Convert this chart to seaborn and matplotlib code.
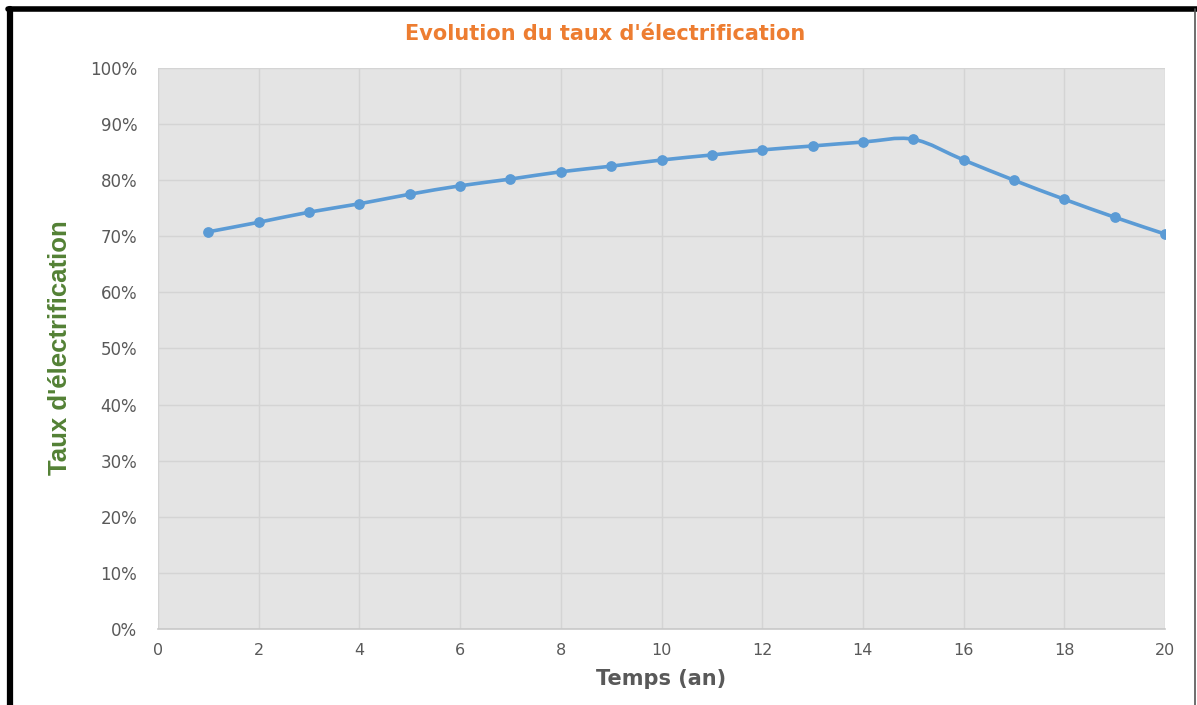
import numpy as np
import pandas as pd
import matplotlib
matplotlib.use("Agg")
import matplotlib.pyplot as plt
import seaborn as sns
from matplotlib.path import Path
from matplotlib.patches import PathPatch
from matplotlib.lines import Line2D
from matplotlib.ticker import FuncFormatter, MultipleLocator

# ---- data ----
years = [1, 2, 3, 4, 5, 6, 7, 8, 9, 10, 11, 12, 13, 14, 15, 16, 17, 18, 19, 20]
taux = [0.708, 0.725, 0.743, 0.758, 0.775, 0.790, 0.802, 0.815, 0.825, 0.836,
        0.845, 0.854, 0.861, 0.868, 0.873, 0.836, 0.800, 0.766, 0.734, 0.704]
title = "Evolution du taux d'électrification"
xlabel = "Temps (an)"
ylabel = "Taux d'électrification"

df = pd.DataFrame({"Temps": years, "Taux": taux})

sns.set_theme(style="white")
fig = plt.figure(figsize=(11.97, 7.05), dpi=100)
ax = fig.add_axes([158 / 1197, 1 - 629 / 705, (1165 - 158) / 1197, (629 - 68) / 705])
ax.set_facecolor("#E4E4E4")

line_color = "#5B9BD5"

# smoothed line (Excel-like Bezier smoothing through the data points)
x = np.asarray(df["Temps"], float)
y = np.asarray(df["Taux"], float)
n = len(x)
verts = [(x[0], y[0])]
codes = [Path.MOVETO]
for i in range(n - 1):
    p0 = np.array([x[max(i - 1, 0)], y[max(i - 1, 0)]])
    p1 = np.array([x[i], y[i]])
    p2 = np.array([x[i + 1], y[i + 1]])
    p3 = np.array([x[min(i + 2, n - 1)], y[min(i + 2, n - 1)]])
    c1 = p1 + (p2 - p0) / 6
    c2 = p2 - (p3 - p1) / 6
    verts += [tuple(c1), tuple(c2), tuple(p2)]
    codes += [Path.CURVE4] * 3
ax.add_patch(PathPatch(Path(verts, codes), fill=False, edgecolor=line_color,
                       lw=2.6, capstyle="round", joinstyle="round", zorder=3))

sns.scatterplot(data=df, x="Temps", y="Taux", ax=ax, color=line_color, s=60,
                edgecolor=line_color, linewidth=0, zorder=4, legend=False)

ax.set_xlim(0, 20)
ax.set_ylim(0, 1.0)
ax.xaxis.set_major_locator(MultipleLocator(2))
ax.yaxis.set_major_locator(MultipleLocator(0.1))
ax.yaxis.set_major_formatter(FuncFormatter(lambda v, p: f"{v*100:.0f}%"))
ax.grid(True, color="#D4D4D4", lw=1)
ax.set_axisbelow(True)
for s in ["top", "right", "left"]:
    ax.spines[s].set_visible(False)
ax.spines["bottom"].set_color("#C8C8C8")
ax.spines["bottom"].set_linewidth(1.2)
ax.tick_params(axis="both", length=0, labelcolor="#595959")
ax.tick_params(axis="x", labelsize=11.5, pad=10)
ax.tick_params(axis="y", labelsize=12, pad=15)

ax.set_xlabel(xlabel, fontsize=15, fontweight="bold", color="#595959", labelpad=8)
ax.set_ylabel("")
fig.text(60 / 1197, 1 - 348 / 705, ylabel, rotation=90, ha="center", va="center",
         fontsize=18.5, fontweight="bold", color="#538135",
         family=["Liberation Sans", "DejaVu Sans"])
fig.text(605 / 1197, 1 - 34 / 705, title, ha="center", va="center",
         fontsize=15, fontweight="bold", color="#ED7D31",
         family=["DejaVu Sans"])

# outer frame
fig.add_artist(Line2D([10 / 1197, 10 / 1197], [0, 1 - 9 / 705], transform=fig.transFigure,
                      color="black", lw=4.5))
fig.add_artist(Line2D([8 / 1197, 1], [1 - 9 / 705, 1 - 9 / 705], transform=fig.transFigure,
                      color="black", lw=4))
fig.add_artist(Line2D([1195 / 1197, 1195 / 1197], [0, 1 - 9 / 705], transform=fig.transFigure,
                      color="#555555", lw=1.2))

fig.savefig("out.png", dpi=100)
